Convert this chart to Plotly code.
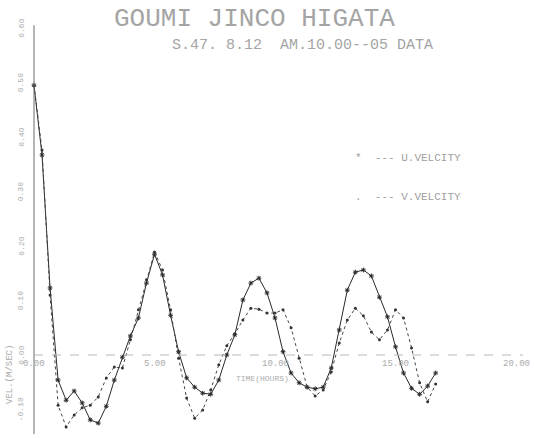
import plotly.graph_objects as go

# Time in hours (20-minute readings)
time_hr = [i / 3 for i in range(51)]

u_velocity = [0.495, 0.367, 0.123, -0.046, -0.083, -0.066, -0.088, -0.119, -0.125, -0.094,
              -0.046, -0.004, 0.035, 0.068, 0.132, 0.185, 0.147, 0.073, 0.006, -0.042,
              -0.059, -0.070, -0.072, -0.046, 0.000, 0.037, 0.101, 0.132, 0.141, 0.114,
              0.068, 0.006, -0.033, -0.051, -0.059, -0.062, -0.059, -0.024, 0.046, 0.119,
              0.152, 0.156, 0.145, 0.106, 0.070, 0.015, -0.033, -0.061, -0.072, -0.057,
              -0.033]

v_velocity = [0.495, 0.376, 0.110, -0.092, -0.132, -0.110, -0.097, -0.092, -0.077, -0.042,
              -0.022, -0.024, 0.028, 0.083, 0.138, 0.189, 0.156, 0.083, -0.006, -0.079,
              -0.116, -0.101, -0.064, -0.018, 0.017, 0.039, 0.064, 0.086, 0.084, 0.077,
              0.077, 0.083, 0.050, -0.006, -0.059, -0.075, -0.064, -0.031, 0.022, 0.064,
              0.086, 0.072, 0.042, 0.028, 0.046, 0.083, 0.068, 0.013, -0.051, -0.086,
              -0.053]

x_ticks = [0, 5, 10, 15, 20]
x_tick_labels = ["0.00", "5.00", "10.00", "15.00", "20.00"]
y_ticks = [-0.1, 0.0, 0.1, 0.2, 0.3, 0.4, 0.5, 0.6]
y_tick_labels = ["-0.10", "0.00", "0.10", "0.20", "0.30", "0.40", "0.50", "0.60"]

MONO = "Liberation Mono, DejaVu Sans Mono, monospace"
INK = "#2a2a2a"
FADED = "#ababab"
TITLE_INK = "#a4a4a4"

fig = go.Figure()

fig.add_trace(go.Scatter(
    x=time_hr, y=u_velocity, mode="lines+markers", name="U.VELCITY",
    line=dict(color=INK, width=1),
    marker=dict(symbol="asterisk-open", size=4, line=dict(color=INK, width=1), color=INK),
))
fig.add_trace(go.Scatter(
    x=time_hr, y=v_velocity, mode="lines+markers", name="V.VELCITY",
    line=dict(color="#444444", width=1, dash="dot"),
    marker=dict(symbol="circle", size=3, color="#333333"),
))

shapes = [
    # vertical axis
    dict(type="line", xref="x", yref="y", x0=0, x1=0, y0=-0.145, y1=0.605,
         line=dict(color="#6a6a6a", width=1)),
    # zero line
    dict(type="line", xref="x", yref="y", x0=0, x1=20.3, y0=0, y1=0,
         line=dict(color="#b8b8b8", width=1, dash="dash")),
]

annotations = []
for xv, lab in zip(x_ticks, x_tick_labels):
    annotations.append(dict(x=xv, y=-0.004, xref="x", yref="y", text=lab, showarrow=False,
                            xanchor="center", yanchor="top",
                            font=dict(family=MONO, size=9, color=FADED)))
for yv, lab in zip(y_ticks, y_tick_labels):
    annotations.append(dict(x=-0.55, y=yv, xref="x", yref="y", text=lab, showarrow=False,
                            textangle=-90, xanchor="center", yanchor="middle",
                            font=dict(family=MONO, size=8, color=FADED)))

# Titles, legend text and axis name placed by pixel position
texts = [
    ("GOUMI JINCO HIGATA", 254, 19, 26, TITLE_INK),
    ("S.47. 8.12  AM.10.00--05 DATA", 302, 45, 15, TITLE_INK),
    ("*  --- U.VELCITY", 408, 158, 11, "#a0a0a0"),
    (".  --- V.VELCITY", 408, 197, 11, "#a0a0a0"),
    ("TIME(HOURS)", 262, 378, 8, FADED),
]
for txt, px, py, size, col in texts:
    annotations.append(dict(x=px / 534, y=1 - py / 439, xref="paper", yref="paper",
                            text=txt, showarrow=False, xanchor="center", yanchor="middle",
                            font=dict(family=MONO, size=size, color=col)))

annotations.append(dict(x=10 / 534, y=1 - 375 / 439, xref="paper", yref="paper",
                        text="VEL.(M/SEC)", showarrow=False, textangle=-90,
                        xanchor="center", yanchor="middle",
                        font=dict(family=MONO, size=9, color=FADED)))

fig.update_layout(
    width=534, height=439,
    margin=dict(l=0, r=0, t=0, b=0),
    paper_bgcolor="white", plot_bgcolor="white",
    showlegend=False,
    shapes=shapes,
    annotations=annotations,
    xaxis=dict(range=[-34 / 24.1, 500 / 24.1], showgrid=False, zeroline=False,
               showticklabels=False, showline=False, fixedrange=True),
    yaxis=dict(range=[-84 / 545, 355 / 545], showgrid=False, zeroline=False,
               showticklabels=False, showline=False, fixedrange=True),
)

fig.write_html("out.html")
